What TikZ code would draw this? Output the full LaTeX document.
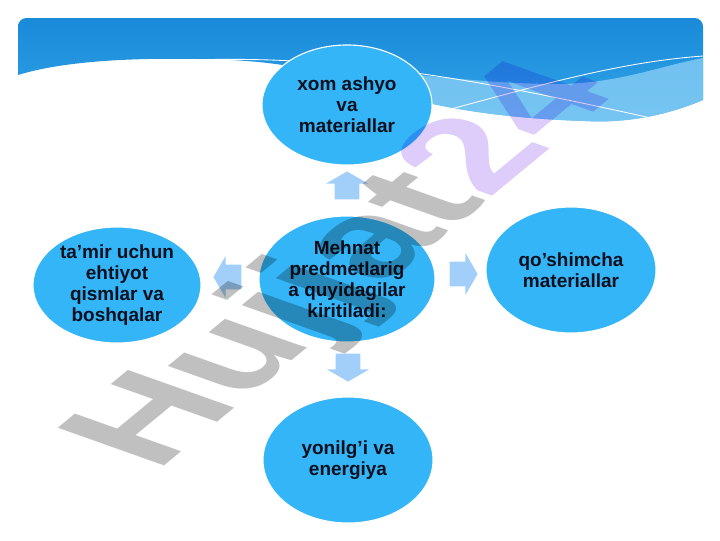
\documentclass[tikz,border=0pt]{standalone}
\usepackage{fontspec}
\setmainfont{Liberation Sans}
\usepackage{xcolor}
\usepackage{tikz}
\usetikzlibrary{shapes.geometric, shapes.arrows, positioning}
\definecolor{bubblefill}{RGB}{51,181,247}
\definecolor{arrowblue}{RGB}{162,206,250}
\definecolor{hdrtop}{RGB}{24,138,216}
\definecolor{hdrbot}{RGB}{52,166,234}
\definecolor{hdrlight}{RGB}{140,208,246}
\definecolor{inktext}{RGB}{12,16,30}
\definecolor{wmgray}{RGB}{192,192,192}
\definecolor{wmviolet}{RGB}{222,204,250}
\tikzstyle{bubble} = [ellipse, draw=white, line width=0.8pt, fill=bubblefill, inner sep=0pt, align=center, text=inktext, font=\bfseries\fontsize{13.5}{15}\selectfont]
\tikzstyle{blockarrow} = [single arrow, draw=none, fill=arrowblue, inner xsep=0pt, inner ysep=0.3cm, minimum height=0.7cm, single arrow head extend=0.22cm, single arrow tip angle=120]
\tikzstyle{wave} = [draw=white, line width=0.6pt]

\begin{document}
\begin{tikzpicture}[x=0.025cm, y=-0.025cm]
                \useasboundingbox (0,0) rectangle (720,540);
                % header band
                \shade[top color=hdrtop, bottom color=hdrbot] (18,75) [rounded corners=6pt] -- (18,18) -- (703,18) -- (703,60) [sharp corners] -- (703,100)
                    .. controls (660,118) and (620,123) .. (585,121)
                    .. controls (520,119) and (470,112) .. (433,104)
                    .. controls (370,88) and (320,64) .. (230,60)
                    .. controls (130,56) and (60,62) .. (18,75) -- cycle;
                \fill[hdrlight, opacity=0.75] (300,66) .. controls (400,70) and (470,84) .. (560,84)
                    .. controls (620,83) and (660,66) .. (703,58) -- (703,100)
                    .. controls (660,118) and (620,123) .. (585,121)
                    .. controls (520,119) and (470,112) .. (433,104)
                    .. controls (370,88) and (340,72) .. (300,66) -- cycle;
                \draw[wave] (150,62) .. controls (330,50) and (480,80) .. (660,120);
                \draw[wave] (440,112) .. controls (540,85) and (620,62) .. (703,56);
                % bubbles
                \node[bubble, minimum width=4.25cm, minimum height=3cm] (raw) at (347,105) {xom ashyo\\va\\materiallar};
                \node[bubble, minimum width=4.4cm, minimum height=3.15cm] (main) at (347,279) {Mehnat\\predmetlarig\\a quyidagilar\\kiritiladi:};
                \node[bubble, minimum width=4.2cm, minimum height=2.9cm] (spare) at (117,285) {ta’mir uchun\\ehtiyot\\qismlar va\\boshqalar};
                \node[bubble, minimum width=4.25cm, minimum height=3.15cm] (extra) at (571,270) {qo’shimcha\\materiallar};
                \node[bubble, minimum width=4.25cm, minimum height=3.15cm] (fuel) at (348,460) {yonilg’i va\\energiya};
                % arrows
                \node[blockarrow, rotate=90] (arrUp) at (347,189) {};
                \node[blockarrow, rotate=-90] (arrDown) at (348,364) {};
                \node[blockarrow, rotate=180] (arrLeft) at (231,277) {};
                \node[blockarrow] (arrRight) at (460,274) {};
                % watermark
                \begin{scope}[blend mode=multiply]
                \node[rotate=39.5, xslant=-0.6, xscale=1.1, font=\bfseries\fontsize{100}{100}\selectfont, inner sep=0pt] (mark) at (349,267) {\textcolor{wmgray}{Hujjat}\textcolor{wmviolet}{24}};
                \end{scope}
            \end{tikzpicture}
\end{document}
